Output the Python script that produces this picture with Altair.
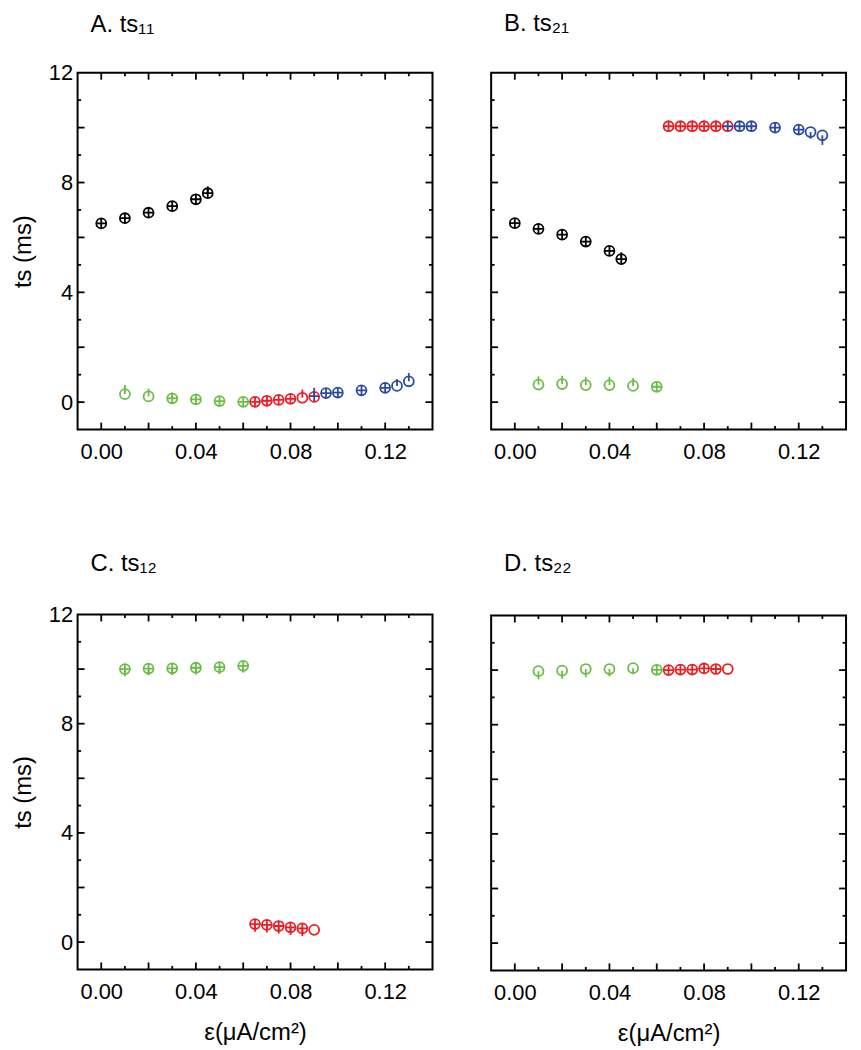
import altair as alt
import pandas as pd

FONT = "Liberation Sans, Arial, Helvetica, sans-serif"

# ---- shared x positions (epsilon, uA/cm^2) ----
X_BLACK = [0.0, 0.01, 0.02, 0.03, 0.04, 0.045]
X_GREEN = [0.01, 0.02, 0.03, 0.04, 0.05, 0.06]
X_RED = [0.065, 0.07, 0.075, 0.08, 0.085, 0.09]
X_BLUE = [0.095, 0.10, 0.11, 0.12, 0.125, 0.13]

# ---- Panel A: ts11 ----
A_BLACK_Y = [6.51, 6.70, 6.90, 7.14, 7.39, 7.61]
A_BLACK_UP = [0, 0, 0, 0, 0, 0.25]
A_BLACK_M = ["c", "c", "c", "c", "c", "c"]
A_GREEN_Y = [0.29, 0.21, 0.14, 0.10, 0.04, 0.01]
A_GREEN_UP = [0.33, 0.28, 0.2, 0, 0, 0]
A_GREEN_M = ["o", "o", "c", "c", "c", "c"]
A_RED_Y = [0.01, 0.05, 0.08, 0.12, 0.16, 0.19]
A_RED_UP = [0, 0, 0, 0, 0.3, 0]
A_RED_M = ["c", "c", "c", "c", "o", "o"]
A_BLUE_Y = [0.33, 0.35, 0.43, 0.52, 0.59, 0.76]
A_BLUE_UP = [0, 0, 0, 0, 0.25, 0.3]
A_BLUE_M = ["c", "c", "c", "c", "o", "o"]
A_BLUE_EXTRA = (0.09, 0.22, 0.3)  # cross only, drawn over red circle

# ---- Panel B: ts21 ----
B_BLACK_Y = [6.52, 6.31, 6.10, 5.85, 5.51, 5.21]
B_BLACK_UP = [0, 0, 0, 0, 0, 0.25]
B_BLACK_M = ["c", "c", "c", "c", "c", "c"]
B_GREEN_Y = [0.64, 0.66, 0.62, 0.62, 0.59, 0.56]
B_GREEN_UP = [0.3, 0.3, 0.3, 0.3, 0.28, 0]
B_GREEN_M = ["o", "o", "o", "o", "o", "c"]
B_RED_Y = [10.05, 10.05, 10.05, 10.05, 10.05, 10.05]
B_RED_M = ["c", "c", "c", "c", "c", "o"]
B_BLUE_Y = [10.05, 10.05, 10.0, 9.93, 9.84, 9.72]
B_BLUE_DN = [0, 0, 0, 0, 0.25, 0.35]
B_BLUE_M = ["c", "c", "c", "c", "o", "o"]
B_BLUE_EXTRA = (0.09, 10.05, 0.0)

# ---- Panel C: ts12 ----
C_GREEN_Y = [10.0, 10.02, 10.03, 10.05, 10.07, 10.12]
C_GREEN_DN = [0.25, 0.25, 0.25, 0.25, 0.25, 0.25]
C_GREEN_M = ["c", "c", "c", "c", "c", "c"]
C_RED_Y = [0.66, 0.63, 0.59, 0.54, 0.50, 0.45]
C_RED_DN = [0.28, 0.28, 0.28, 0.28, 0.28, 0]
C_RED_M = ["c", "c", "c", "c", "c", "o"]

# ---- Panel D: ts22 ----
D_GREEN_Y = [9.96, 9.98, 10.04, 10.04, 10.07, 10.01]
D_GREEN_DN = [0.30, 0.30, 0.30, 0.27, 0.22, 0]
D_GREEN_M = ["o", "o", "o", "o", "o", "c"]
D_RED_Y = [10.0, 10.02, 10.02, 10.06, 10.04, 10.04]
D_RED_M = ["c", "c", "c", "c", "c", "o"]

# ---- axes ----
X_DOMAIN = [-0.01, 0.14]
Y_DOMAIN = [-1, 12]
X_LABELS = [0.0, 0.04, 0.08, 0.12]
Y_LABELS = [0, 4, 8, 12]
X_MAJOR = [0.0, 0.02, 0.04, 0.06, 0.08, 0.10, 0.12]
X_MINOR = [0.01, 0.03, 0.05, 0.07, 0.09, 0.11, 0.13]
Y_MAJOR = [0, 2, 4, 6, 8, 10]
Y_MINOR = [1, 3, 5, 7, 9, 11]

BLACK = "#000000"
GREEN = "#6abd45"
RED = "#ee1d23"
BLUE = "#2d4b9e"

CIRC = "M-1,0A1,1,0,1,0,1,0A1,1,0,1,0,-1,0Z"
CROSS = "M-1,0L1,0M0,-1L0,1"


def series(xs, ys, color, marks, up=None, dn=None):
    rows = []
    for i, (x, y) in enumerate(zip(xs, ys)):
        u = up[i] if up else 0
        d = dn[i] if dn else 0
        rows.append({"x": x, "y": y, "lo": y - d, "hi": y + u, "col": color, "m": marks[i]})
    return rows


def extra(t, color):
    x, y, u = t
    return [{"x": x, "y": y, "lo": y, "hi": y + u, "col": color, "m": "x"}]


def panel(rows, title, w, h, show_y, x_title, title_off):
    df = pd.DataFrame(rows)
    xs = alt.Scale(domain=X_DOMAIN, nice=False, zero=False)
    ys = alt.Scale(domain=Y_DOMAIN, nice=False, zero=False)
    xaxis_kw = dict(values=X_LABELS, format=".2f", ticks=False, tickSize=0, domain=False,
                    grid=False, labelFontSize=22, labelPadding=12, labelFont=FONT,
                    labelColor="black")
    if x_title:
        xaxis = alt.Axis(title=x_title, titleFontSize=24, titleFont=FONT, titleFontWeight="normal",
                         titlePadding=19, titleColor="black", **xaxis_kw)
    else:
        xaxis = alt.Axis(title=None, **xaxis_kw)
    if show_y:
        yaxis = alt.Axis(values=Y_LABELS, ticks=False, tickSize=0, domain=False, grid=False,
                         labelFontSize=22, labelPadding=5, labelFont=FONT, labelColor="black",
                         title="ts (ms)", titleFontSize=24, titleFont=FONT, titleFontWeight="normal",
                         titlePadding=13, titleColor="black")
    else:
        yaxis = None

    layers = []
    for vals, L in [(X_MAJOR, 7), (X_MINOR, 3.5)]:
        d = pd.DataFrame({"v": vals})
        b = alt.Chart(d).mark_rule(color="black", strokeWidth=1.8)
        xe = alt.X("v:Q", scale=xs, axis=xaxis)
        layers.append(b.encode(x=xe, y=alt.value(h), y2=alt.value(h - L)))
        layers.append(b.encode(x=xe, y=alt.value(0), y2=alt.value(L)))
    for vals, L in [(Y_MAJOR, 7), (Y_MINOR, 3.5)]:
        d = pd.DataFrame({"v": vals})
        b = alt.Chart(d).mark_rule(color="black", strokeWidth=1.8)
        ye = alt.Y("v:Q", scale=ys, axis=yaxis)
        layers.append(b.encode(y=ye, x=alt.value(0), x2=alt.value(L)))
        layers.append(b.encode(y=ye, x=alt.value(w), x2=alt.value(w - L)))

    err = alt.Chart(df).mark_rule(strokeWidth=1.8).encode(
        x=alt.X("x:Q", scale=xs, axis=xaxis),
        y=alt.Y("lo:Q", scale=ys, axis=yaxis),
        y2="hi:Q",
        color=alt.Color("col:N", scale=None),
    )
    pts = alt.Chart(df).mark_point(filled=False, size=100, strokeWidth=1.8, opacity=1).encode(
        x=alt.X("x:Q", scale=xs, axis=xaxis),
        y=alt.Y("y:Q", scale=ys, axis=yaxis),
        color=alt.Color("col:N", scale=None),
        shape=alt.Shape("m:N", scale=alt.Scale(domain=["c", "o", "x"],
                                               range=[CIRC + CROSS, CIRC, CROSS]), legend=None),
    )
    layers += [err, pts]
    return alt.layer(*layers).properties(
        width=w, height=h,
        title=alt.TitleParams(title, anchor="start", frame="group", dx=13, offset=title_off,
                              fontSize=24, font=FONT, fontWeight="normal", color="black"),
    )


rowsA = (series(X_BLACK, A_BLACK_Y, BLACK, A_BLACK_M, up=A_BLACK_UP)
         + series(X_GREEN, A_GREEN_Y, GREEN, A_GREEN_M, up=A_GREEN_UP)
         + series(X_BLUE, A_BLUE_Y, BLUE, A_BLUE_M, up=A_BLUE_UP)
         + series(X_RED, A_RED_Y, RED, A_RED_M, up=A_RED_UP)
         + extra(A_BLUE_EXTRA, BLUE))
rowsB = (series(X_BLACK, B_BLACK_Y, BLACK, B_BLACK_M, up=B_BLACK_UP)
         + series(X_GREEN, B_GREEN_Y, GREEN, B_GREEN_M, up=B_GREEN_UP)
         + series(X_BLUE, B_BLUE_Y, BLUE, B_BLUE_M, dn=B_BLUE_DN)
         + series(X_RED, B_RED_Y, RED, B_RED_M)
         + extra(B_BLUE_EXTRA, BLUE))
rowsC = (series(X_GREEN, C_GREEN_Y, GREEN, C_GREEN_M, dn=C_GREEN_DN)
         + series(X_RED, C_RED_Y, RED, C_RED_M, dn=C_RED_DN))
rowsD = (series(X_GREEN, D_GREEN_Y, GREEN, D_GREEN_M, dn=D_GREEN_DN)
         + series(X_RED, D_RED_Y, RED, D_RED_M))

XT = "ε(μA/cm²)"
pA = panel(rowsA, "A. ts₁₁", 357, 359, True, None, 25)
pB = panel(rowsB, "B. ts₂₁", 357, 359, False, None, 36)
pC = panel(rowsC, "C. ts₁₂", 357, 357, True, XT, 28)
pD = panel(rowsD, "D. ts₂₂", 357, 357, False, XT, 39)

chart = alt.concat(
    pA, pB, pC, pD,
    columns=2,
    align="none",
    spacing={"row": 88, "column": 55},
    padding={"left": 2, "top": 0, "right": 5, "bottom": 2},
    background="white",
).configure_view(stroke="black", strokeWidth=2)

chart.save("out.html", embed_options={"renderer": "svg", "actions": False})
